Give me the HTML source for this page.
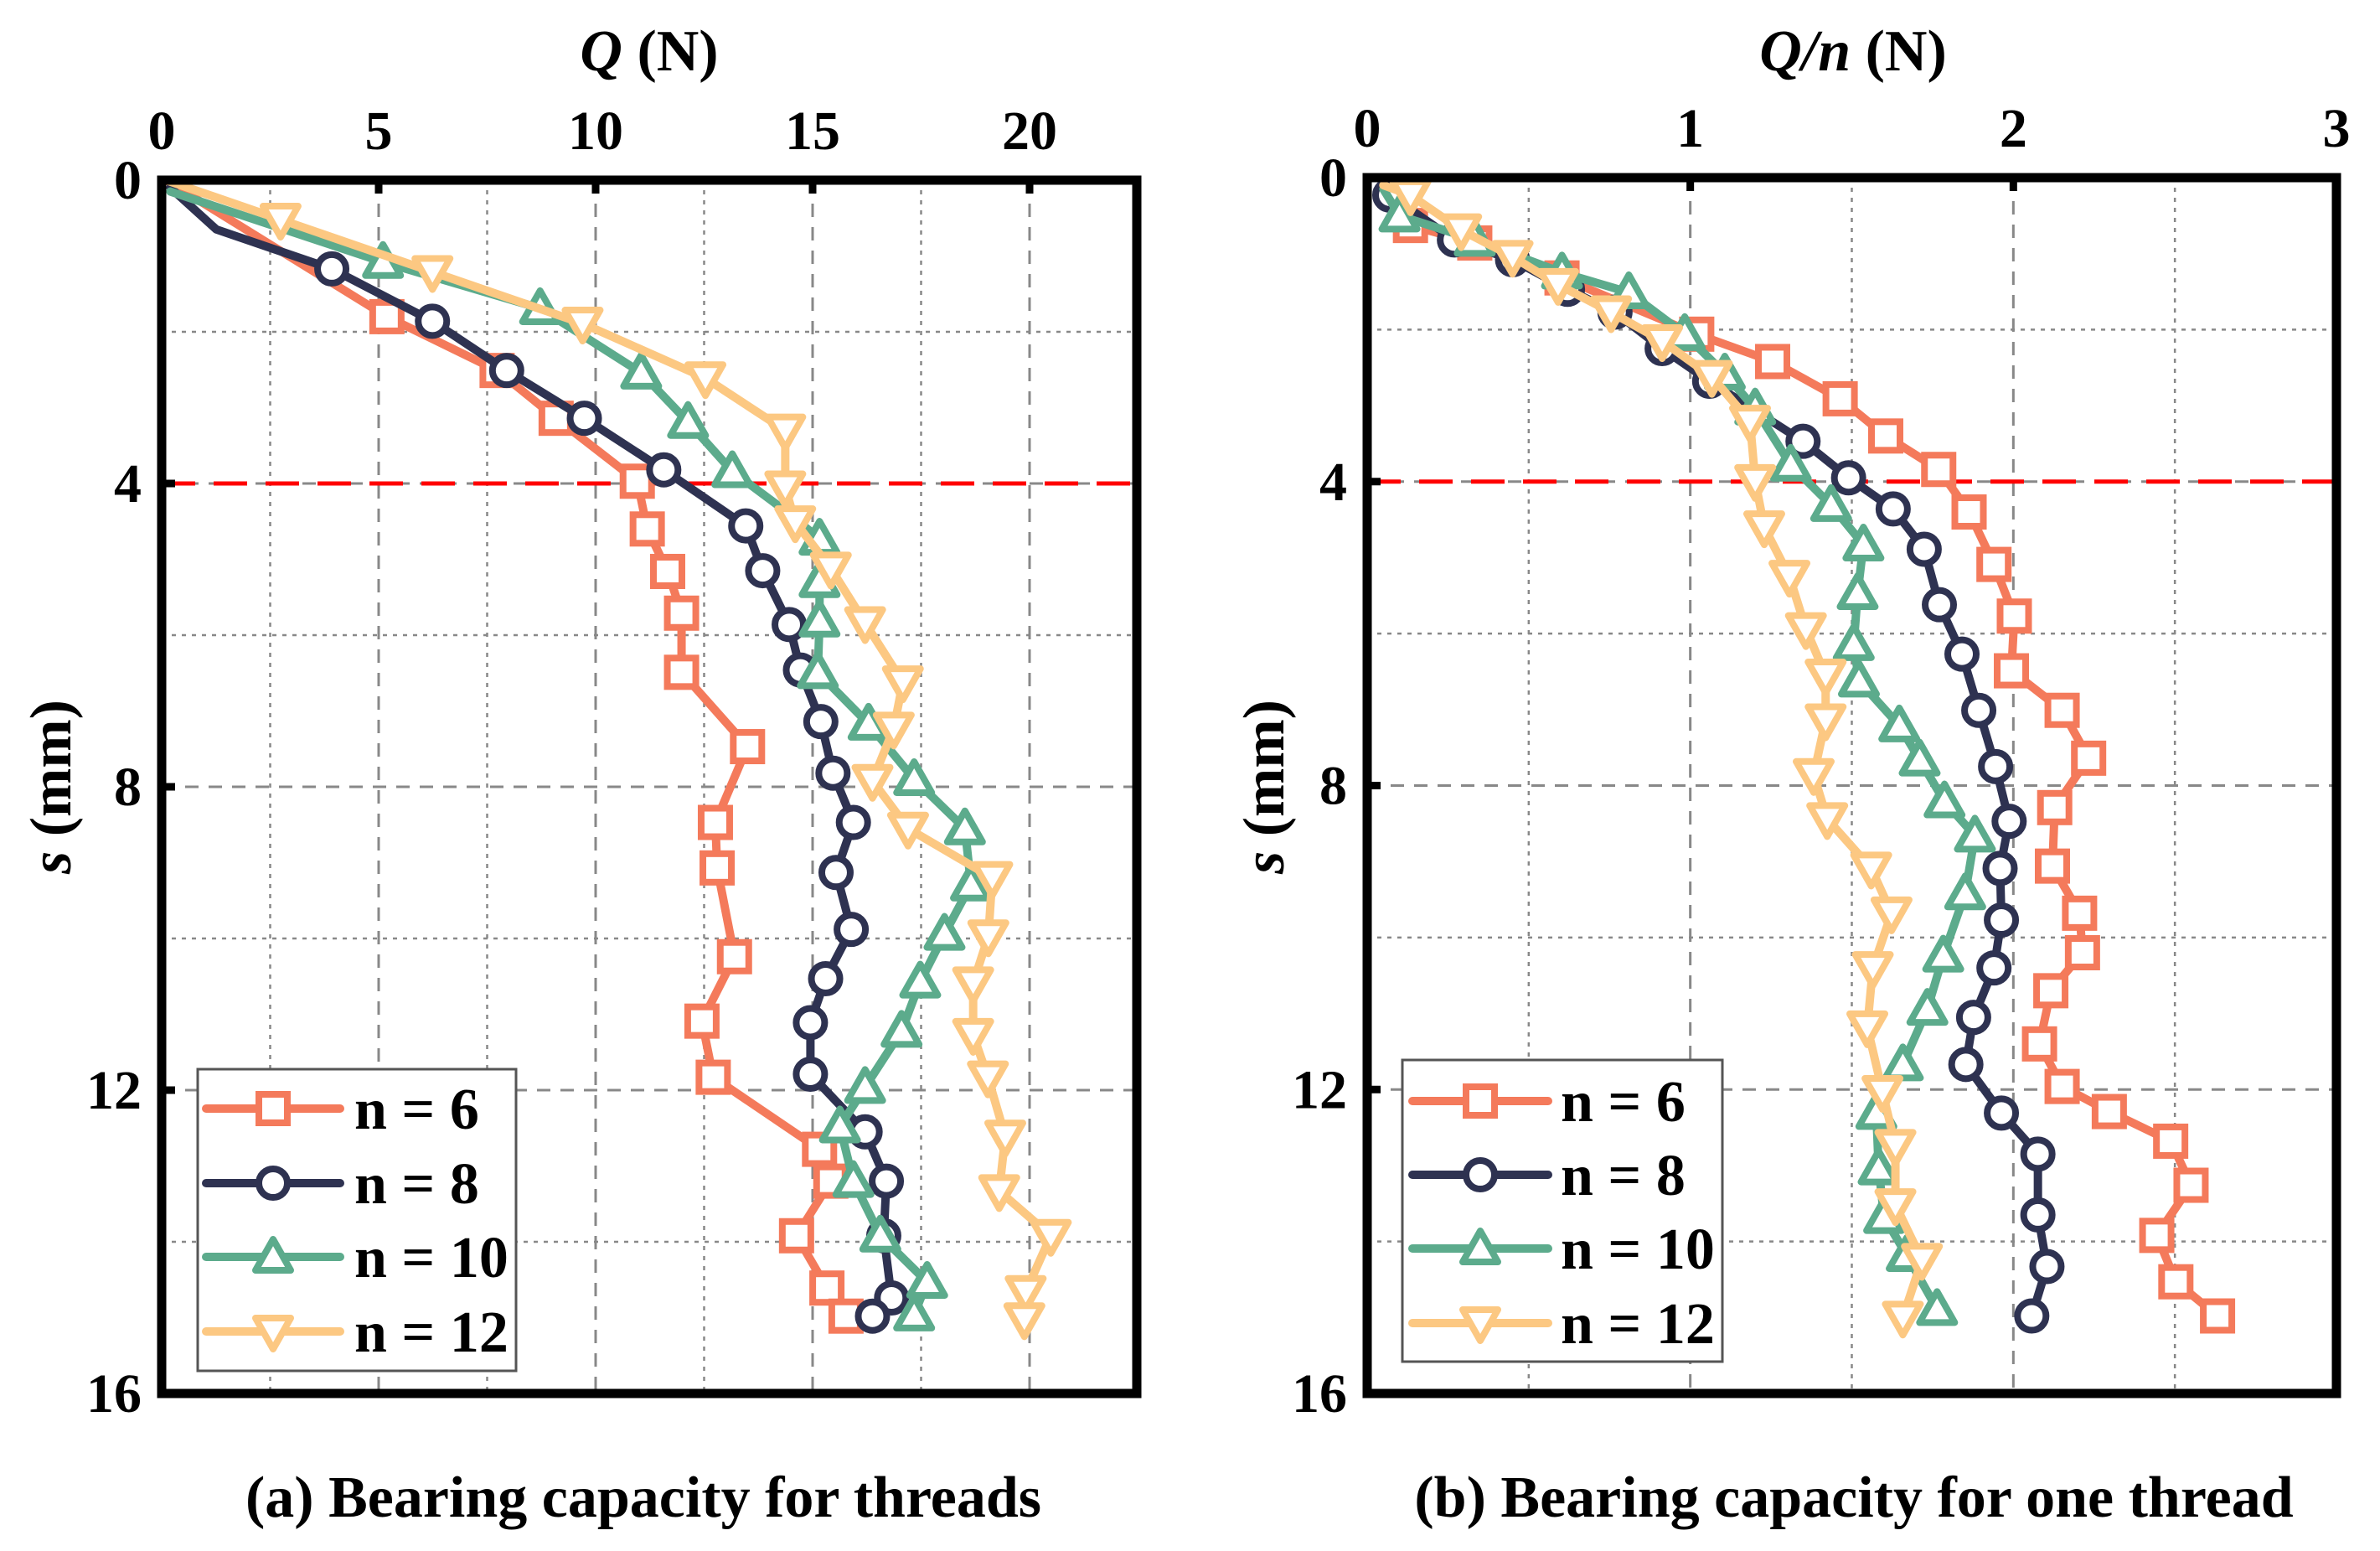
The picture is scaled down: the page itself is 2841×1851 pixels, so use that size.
<!DOCTYPE html>
<html><head><meta charset="utf-8">
<style>
html,body{margin:0;padding:0;background:#fff;}
svg{display:block;font-family:"Liberation Serif",serif;font-weight:bold;}
</style></head>
<body>
<svg id="chart" width="2841" height="1851" viewBox="0 0 2841 1851" xmlns="http://www.w3.org/2000/svg">
<rect width="2841" height="1851" fill="#fff"/>
</svg>
<script>
// ===== Data: panel (a) Q (N) vs s (mm) =====
const seriesNames = ["n = 6","n = 8","n = 10","n = 12"];
const aQ6 = [0.1,5.19,7.73,9.09,10.96,11.19,11.66,11.98,11.98,13.50,12.76,12.80,13.20,12.45,12.71,15.16,15.42,14.63,15.33,15.77];
const aS6 = [0.0,1.80,2.51,3.14,3.97,4.60,5.16,5.71,6.49,7.47,8.47,9.07,10.24,11.09,11.83,12.78,13.20,13.92,14.61,14.98];
const aQ8 = [0.2,1.26,3.92,6.24,7.95,9.74,11.57,13.46,13.85,14.46,14.72,15.19,15.47,15.94,15.54,15.89,15.30,14.95,14.95,16.21,16.70,16.64,16.82,16.38];
const aS8 = [0.1,0.65,1.17,1.86,2.51,3.14,3.82,4.56,5.15,5.86,6.46,7.14,7.82,8.47,9.13,9.88,10.53,11.11,11.79,12.55,13.20,13.92,14.74,14.98];
const aQ10 = [0.2,5.10,8.72,11.05,12.13,13.15,14.37,15.16,15.16,15.16,15.12,16.29,17.34,18.51,18.65,18.04,17.48,17.05,16.21,15.63,15.94,16.56,17.64,17.34];
const aS10 = [0.15,1.08,1.69,2.54,3.19,3.84,4.36,4.73,5.29,5.81,6.49,7.17,7.90,8.55,9.29,9.94,10.57,11.22,11.96,12.48,13.20,13.92,14.53,14.96];
const aQ12 = [0.1,2.74,6.24,9.70,12.53,14.37,14.37,14.60,15.42,16.21,17.08,16.87,16.38,17.20,19.14,19.05,18.70,18.70,19.04,19.44,19.30,20.49,19.91,19.88];
const aS12 = [0.0,0.52,1.21,1.89,2.61,3.30,4.05,4.51,5.12,5.84,6.62,7.23,7.92,8.55,9.20,9.97,10.59,11.27,11.83,12.61,13.33,13.92,14.66,15.02];
// ===== Data: panel (b) Q/n (N) vs s (mm) =====
const bQ6 = [0.05,0.134,0.333,0.603,1.020,1.255,1.464,1.605,1.769,1.863,1.940,2.003,1.994,2.151,2.233,2.128,2.121,2.205,2.214,2.116,2.081,2.151,2.297,2.487,2.550,2.444,2.503,2.632];
const bS6 = [0.1,0.63,0.86,1.32,2.06,2.42,2.91,3.40,3.84,4.40,5.09,5.77,6.49,7.01,7.64,8.29,9.06,9.68,10.20,10.70,11.40,11.96,12.29,12.68,13.26,13.92,14.53,14.98];
const bQ8 = [0.05,0.07,0.27,0.45,0.62,0.767,0.913,1.060,1.349,1.490,1.628,1.724,1.771,1.841,1.893,1.945,1.987,1.959,1.963,1.940,1.877,1.853,1.963,2.076,2.076,2.104,2.057];
const bS8 = [0.1,0.23,0.82,1.08,1.47,1.77,2.25,2.68,3.47,3.95,4.36,4.89,5.62,6.27,7.01,7.75,8.47,9.09,9.77,10.40,11.05,11.67,12.31,12.85,13.65,14.33,14.98];
const bQ10 = [0.05,0.10,0.333,0.603,0.81,0.983,1.107,1.201,1.311,1.436,1.536,1.518,1.506,1.522,1.647,1.710,1.787,1.881,1.851,1.783,1.734,1.658,1.576,1.583,1.600,1.670,1.764];
const bS10 = [0.15,0.50,0.82,1.25,1.51,2.06,2.58,3.04,3.78,4.31,4.83,5.47,6.14,6.62,7.21,7.66,8.21,8.66,9.42,10.24,10.94,11.67,12.31,13.04,13.68,14.18,14.89];
const bQ12 = [0.05,0.134,0.291,0.45,0.591,0.755,0.913,1.067,1.185,1.201,1.229,1.307,1.358,1.419,1.419,1.382,1.424,1.560,1.623,1.565,1.548,1.595,1.635,1.635,1.717,1.658];
const bS12 = [0.1,0.23,0.69,1.04,1.41,1.77,2.15,2.62,3.21,3.99,4.60,5.25,5.94,6.55,7.14,7.86,8.44,9.09,9.68,10.40,11.18,12.03,12.74,13.52,14.24,15.00];
// points drawn without marker (series index : point index)
const aNoMarker = ["1:1","2:6"];
const bNoMarker = [];
// ticks
const aXTicks = [0,5,10,15,20];
const bXTicks = [0,1,2,3];
const yTicks = [0,4,8,12,16];
const refLine = 4;

const colors = ["#f47a5b","#2e3251","#5cab8c","#fcc882"];
const markers = ["square","circle","up","down"];
const NS = "http://www.w3.org/2000/svg";
const svg = document.getElementById('chart');
function el(tag, attrs, parent){
  const e = document.createElementNS(NS, tag);
  for (const k in attrs) e.setAttribute(k, attrs[k]);
  (parent||svg).appendChild(e);
  return e;
}
function marker(g, kind, cx, cy, col){
  const r = 19, sw = 8;
  let m;
  if (kind==="square") m = el('rect',{x:cx-r+2,y:cy-r+2,width:2*r-4,height:2*r-4,fill:'#fff',stroke:col,'stroke-width':sw},g);
  else if (kind==="circle") m = el('circle',{cx:cx,cy:cy,r:r-2,fill:'#fff',stroke:col,'stroke-width':sw},g);
  else if (kind==="up") m = el('polygon',{points:`${cx},${cy-r-2} ${cx-r-2},${cy+r-3} ${cx+r+2},${cy+r-3}`,fill:'#fff',stroke:col,'stroke-width':sw,'stroke-linejoin':'round'},g);
  else m = el('polygon',{points:`${cx},${cy+r+2} ${cx-r-2},${cy-r+3} ${cx+r+2},${cy-r+3}`,fill:'#fff',stroke:col,'stroke-width':sw,'stroke-linejoin':'round'},g);
  
  
}

function panel(opt){
  const {x0,x1,y0,y1,xmax,xTicks,minorStep,xs,ys,legend,id,noMarker} = opt;
  const X = v => x0 + v/xmax*(x1-x0);
  const Y = v => y0 + v/16*(y1-y0);
  const g = el('g',{});
  
  
  for (let v=minorStep; v<xmax-1e-6; v+=minorStep){
    const major = xTicks.some(t=>Math.abs(t-v)<1e-6);
    const l = el('line',{x1:X(v),x2:X(v),y1:y0,y2:y1,stroke:'#888','stroke-width':major?3:2.5,'stroke-dasharray':major?'16 12':'5 7'},g);
    
    
  }
  for (let v=2; v<16; v+=2){
    const major = v%4===0;
    const l = el('line',{x1:x0,x2:x1,y1:Y(v),y2:Y(v),stroke:'#888','stroke-width':major?3:2.5,'stroke-dasharray':major?'16 12':'5 7'},g);
    
    
  }
  const rl = el('line',{x1:x0,x2:x1,y1:Y(refLine),y2:Y(refLine),stroke:'#ff0000','stroke-width':5,'stroke-dasharray':'40 22'},g);
  
  
  for (let i=0;i<4;i++){
    const sg = el('g',{},g);
    
    
    const pts = xs[i].map((v,j)=>X(v)+','+Y(ys[i][j])).join(' ');
    const pl = el('polyline',{points:pts,fill:'none',stroke:colors[i],'stroke-width':10,'stroke-linejoin':'round','stroke-linecap':'round'},sg);
    
    
    xs[i].forEach((v,j)=>{ if(j>0 && !noMarker.includes(i+':'+j)) marker(sg, markers[i], X(v), Y(ys[i][j]), colors[i]); });
  }
  const fr = el('rect',{x:x0,y:y0,width:x1-x0,height:y1-y0,fill:'none',stroke:'#000','stroke-width':11},g);
  
  
  xTicks.forEach(t=>{
    el('line',{x1:X(t),x2:X(t),y1:y0,y2:y0+16,stroke:'#000','stroke-width':9},g);
    const tx = el('text',{x:X(t),y:y0-37,'text-anchor':'middle','font-size':66},g);
    tx.textContent = t;
    
    
  });
  yTicks.forEach(t=>{
    el('line',{x1:x0,x2:x0+16,y1:Y(t),y2:Y(t),stroke:'#000','stroke-width':9},g);
    const tx = el('text',{x:x0-24,y:Y(t)+22,'text-anchor':'end','font-size':66},g);
    tx.textContent = t;
    
    
  });
  const L = legend;
  const lg = el('g',{},g);
  
  
  el('rect',{x:L.x,y:L.y,width:L.w,height:L.h,fill:'#fff',stroke:'#555','stroke-width':3},lg);
  for (let i=0;i<4;i++){
    const ey = L.ey[i];
    const eg = el('g',{},lg);
    
    
    el('line',{x1:L.lx0,x2:L.lx1,y1:ey,y2:ey,stroke:colors[i],'stroke-width':10,'stroke-linecap':'round'},eg);
    marker(eg, markers[i], (L.lx0+L.lx1)/2, ey, colors[i]);
    const tx = el('text',{x:L.tx,y:ey+24,'font-size':70},eg);
    tx.textContent = seriesNames[i];
  }
}

panel({id:'a',x0:193,x1:1357,y0:215,y1:1663,xmax:1164/51.8,xTicks:aXTicks,minorStep:2.5,noMarker:aNoMarker,
  xs:[aQ6,aQ8,aQ10,aQ12], ys:[aS6,aS8,aS10,aS12],
  legend:{x:236,y:1276,w:380,h:360,ey:[1323,1412,1500,1589],lx0:246,lx1:406,tx:423}});
panel({id:'b',x0:1632,x1:2789,y0:212,y1:1663,xmax:3,xTicks:bXTicks,minorStep:0.5,noMarker:bNoMarker,
  xs:[bQ6,bQ8,bQ10,bQ12], ys:[bS6,bS8,bS10,bS12],
  legend:{x:1674,y:1265,w:382,h:360,ey:[1314,1402,1490,1579],lx0:1686,lx1:1848,tx:1863}});

function txt(x,y,html,name,size,rot){
  const t = el('text',{x:x,y:y,'text-anchor':'middle','font-size':size});
  if (rot) t.setAttribute('transform',`rotate(-90 ${x} ${y})`);
  t.innerHTML = html;
  
  
}
txt(775,84,'<tspan font-style="italic">Q</tspan> (N)','x-axis-title-a',70);
txt(2212,84,'<tspan font-style="italic">Q/n</tspan> (N)','x-axis-title-b',70);
txt(84,939,'<tspan font-style="italic">s</tspan> (mm)','y-axis-title-a',70,true);
txt(1532,939,'<tspan font-style="italic">s</tspan> (mm)','y-axis-title-b',70,true);
txt(768,1810,'(a) Bearing capacity for threads','caption-a',70);
txt(2213,1810,'(b) Bearing capacity for one thread','caption-b',70);
</script>
</body></html>
